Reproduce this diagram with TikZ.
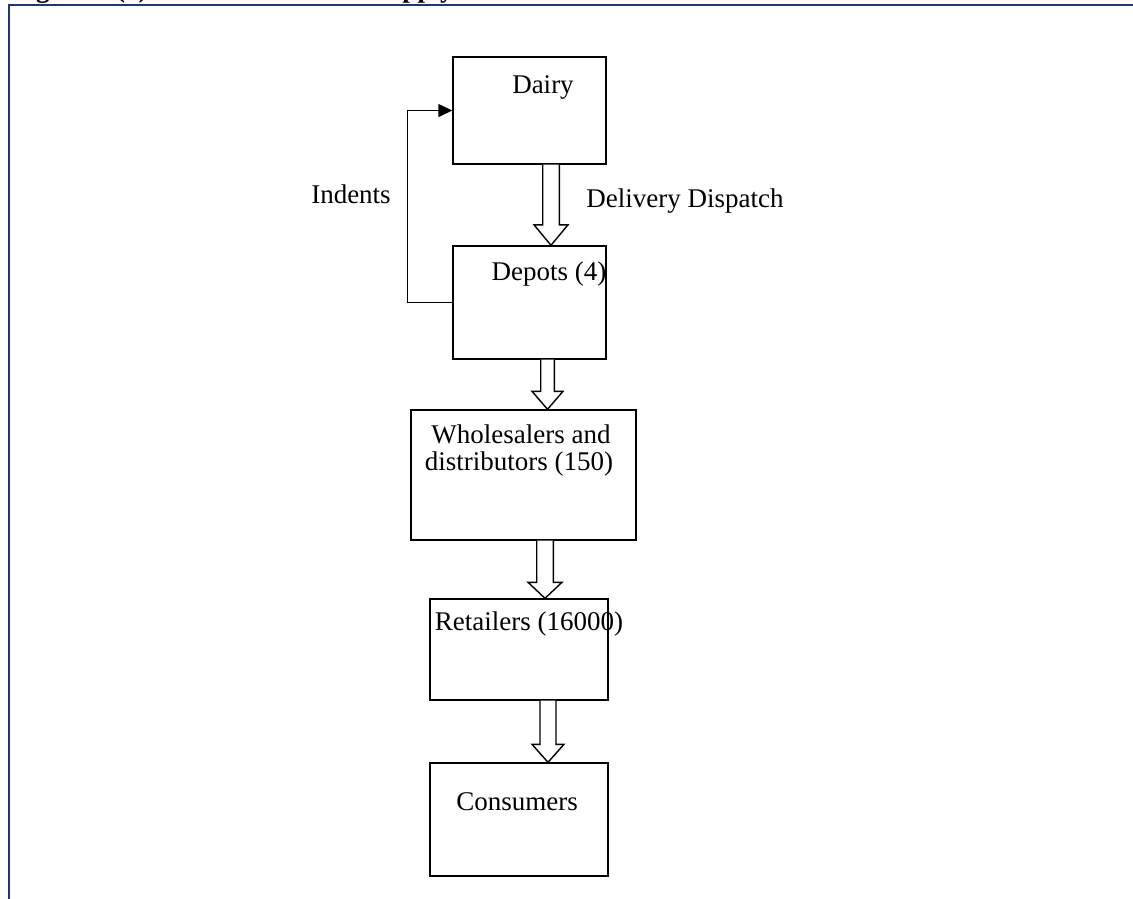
\documentclass[tikz,border=0pt]{standalone}
\usepackage{fontspec}
\setmainfont{Liberation Serif}
\usetikzlibrary{arrows.meta,calc}

\definecolor{framenavy}{RGB}{31,56,110}

\tikzset{
  box/.style={draw=black, line width=1.4pt, rectangle, inner sep=0pt},
  txt/.style={font=\fontsize{27}{32}\selectfont, inner sep=0pt, anchor=base},
  flow/.style={draw=black, line width=1.4pt, fill=white, line join=miter},
  feedback/.style={draw=black, line width=1.4pt, -{Triangle[length=14pt,width=13pt]}},
  frameline/.style={draw=framenavy, line width=2.2pt},
  heading/.style={font=\fontsize{27}{32}\selectfont\bfseries, inner sep=0pt, anchor=base west}
}

% block arrow from the bottom of #1 to the top of #2, centred at x = #3
% #4 shaft half width, #5 head half width, #6 head length
\newcommand\blockarrow[6]{%
  \draw[flow] let \p0=(#3,0), \p1=(#1.south), \p2=(#2.north) in
    (\x0-#4,\y1) -- (\x0-#4,\y2+#6) -- (\x0-#5,\y2+#6) -- (\x0,\y2)
    -- (\x0+#5,\y2+#6) -- (\x0+#4,\y2+#6) -- (\x0+#4,\y1);
}

\begin{document}
\begin{tikzpicture}[x=1pt,y=-1pt]
  \useasboundingbox (0,0) rectangle (1133,898);
  \clip (0,0) rectangle (1133,898);

  % heading above the frame
  \node[heading] (title) at (12,-3) {Figure\hspace{28pt}(1)};
  \node[heading] (title2) at (310,-3) {Milk Supply Chain};

  % frame
  \draw[frameline] (9,905) -- (9,5) -- (1140,5);

  % boxes
  \node[box, minimum width=153pt, minimum height=107pt] (dairy)   at (529.5,110.5) {};
  \node[box, minimum width=153pt, minimum height=113pt] (depots)  at (529.5,302.5) {};
  \node[box, minimum width=225pt, minimum height=130pt] (whole)   at (523.5,475) {};
  \node[box, minimum width=178pt, minimum height=101pt] (retail)  at (519,649.5) {};
  \node[box, minimum width=178pt, minimum height=113pt] (cons)    at (519,819.5) {};

  % box texts
  \node[txt] (tdairy)  at (543,93)  {Dairy};
  \node[txt] (tdepots) at (549,280) {Depots (4)};
  \node[txt] (twhole1) at (521,443) {Wholesalers and};
  \node[txt] (twhole2) at (519,470) {distributors (150)};
  \node[txt] (tretail) at (529,630) {Retailers (16000)};
  \node[txt] (tcons)   at (517,810) {Consumers};

  % side labels
  \node[txt] (lindents)  at (351,203) {Indents};
  \node[txt] (ldispatch) at (685,207) {Delivery Dispatch};

  % flow arrows
  \blockarrow{dairy}{depots}{551}{8.3pt}{17pt}{20.5pt}
  \blockarrow{depots}{whole}{547.5}{6.8pt}{15.5pt}{18pt}
  \blockarrow{whole}{retail}{545}{8.3pt}{17pt}{16pt}
  \blockarrow{retail}{cons}{548}{8pt}{16pt}{18pt}

  % indents back to the dairy
  \draw[feedback] (depots.west) -- ++(-45,0) |- (dairy.west);
\end{tikzpicture}
\end{document}
